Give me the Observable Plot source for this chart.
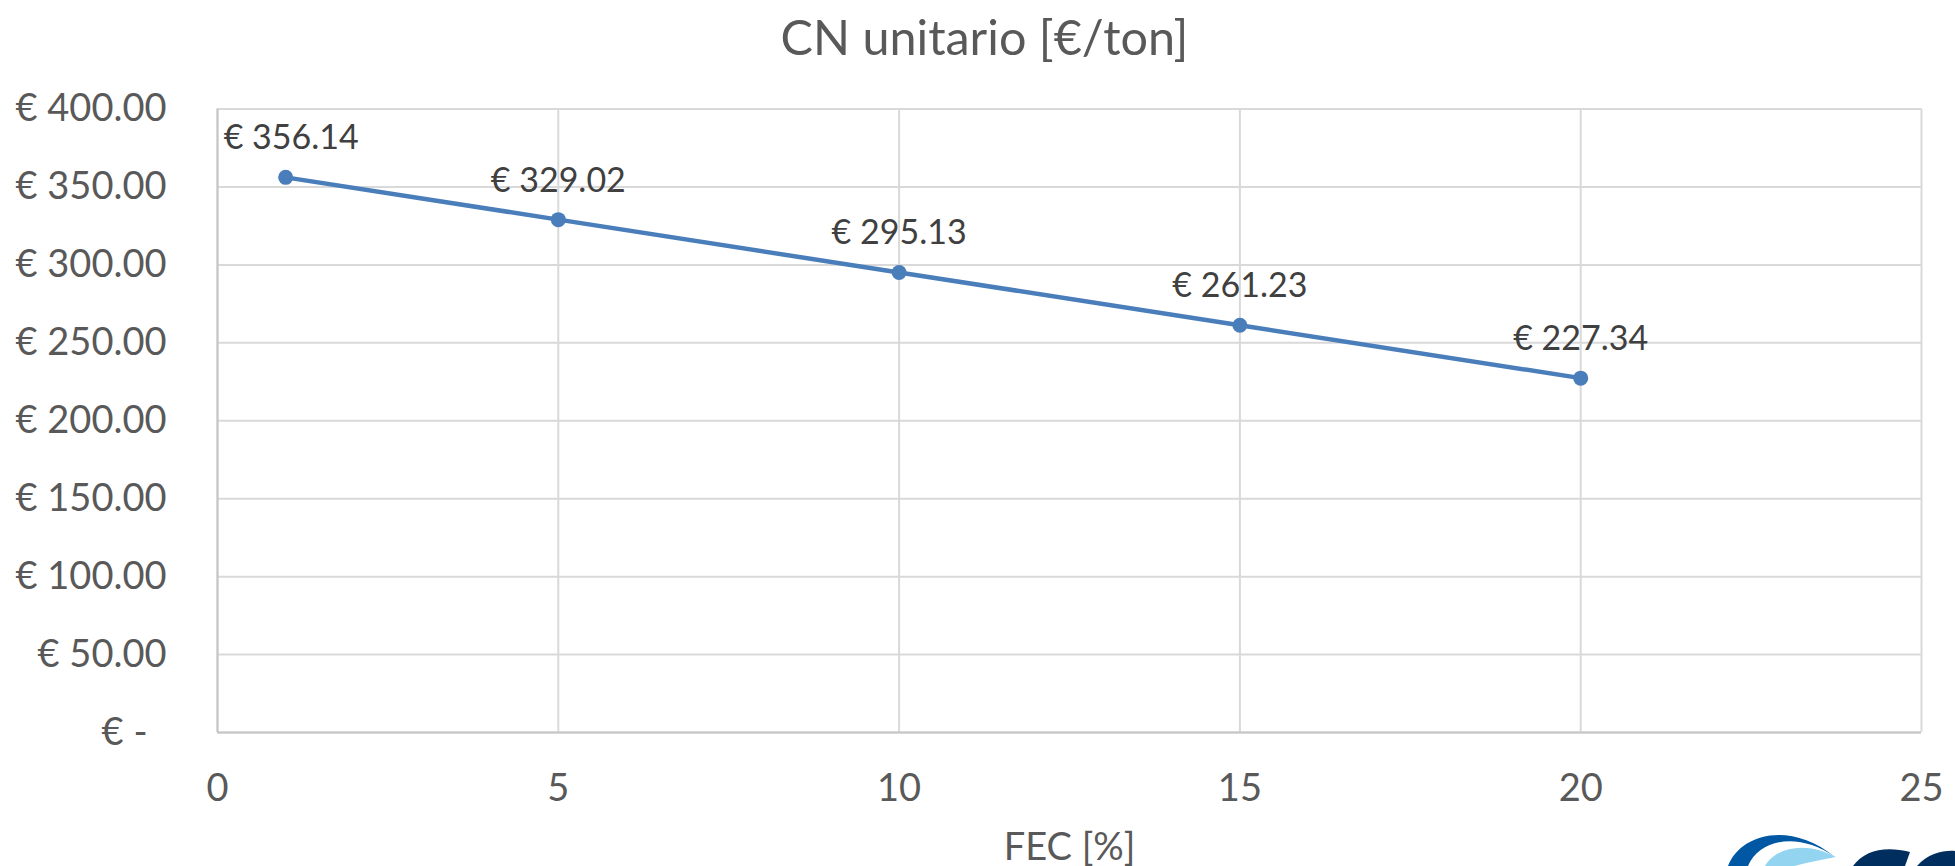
<!DOCTYPE html>
<html><head><meta charset="utf-8">
<script src="https://cdn.jsdelivr.net/npm/d3@7"></script>
<script src="https://cdn.jsdelivr.net/npm/@observablehq/plot@0.6"></script>
<style>
html,body{margin:0;padding:0;background:#fff}
body{width:1955px;height:866px;overflow:hidden;position:relative;font-family:Lato,"Open Sans",sans-serif}
#title{height:80px;line-height:72px;text-align:center;font-size:48.5px;color:#595959;padding-left:14px;box-sizing:border-box;width:1955px;overflow:hidden}
#logo{position:absolute;left:1700px;top:820px}
</style></head>
<body>
<div id="title">CN unitario [€/ton]</div>
<div id="chart"></div>
<svg id="logo" width="255" height="46" viewBox="0 0 255 46">
  <path d="M28,46 C40,14 90,0 135,37 C100,12 60,18 48,46 Z" fill="#0057a3"/>
  <path d="M65,46 C75,28 105,20 136,37 C120,40 100,44 95,46 Z" fill="#93d5f1"/>
  <path d="M153,46 C165,30 185,26 210,32 L205,46 Z" fill="#002f5f"/>
  <path d="M217,46 C228,33 245,30 255,31 L255,46 Z" fill="#002f5f"/>
</svg>
<script>
const fec = [1, 5, 10, 15, 20];
const cost = [356.14, 329.02, 295.13, 261.23, 227.34];
const xTicks = [0, 5, 10, 15, 20, 25];
const yTicks = [0, 50, 100, 150, 200, 250, 300, 350, 400];
const title = "CN unitario [€/ton]";
const xLabel = "FEC [%]";

const data = fec.map((x, i) => ({x, y: cost[i], label: "€ " + cost[i].toFixed(2)}));
const euro = v => v === 0 ? "€ -\u2002" : "€ " + v.toFixed(2);

const blue = "#4a7ebb";
const grid = "#d9d9d9";

const chart = Plot.plot({
  width: 1955,
  height: 786,
  marginLeft: 217,
  marginRight: 34,
  marginTop: 28.5,
  marginBottom: 134,
  style: {color: "#595959", fontFamily: "Lato, 'Open Sans', sans-serif", background: "white"},
  x: {domain: [0, 25]},
  y: {domain: [0, 400]},
  marks: [
    Plot.gridX(xTicks, {stroke: grid, strokeOpacity: 1, strokeWidth: 2}),
    Plot.gridY(yTicks, {stroke: grid, strokeOpacity: 1, strokeWidth: 2}),
    Plot.ruleX([0], {stroke: "#c6c6c6", strokeWidth: 2}),
    Plot.ruleY([0], {stroke: "#c6c6c6", strokeWidth: 2}),
    Plot.axisX({ticks: xTicks, tickSize: 0, tickPadding: 42, fontSize: 38, label: xLabel, labelAnchor: "center", labelArrow: "none", labelOffset: 127}),
    Plot.axisY({ticks: yTicks, tickSize: 0, tickPadding: 51, fontSize: 38, tickFormat: euro, label: null}),
    Plot.line(data, {x: "x", y: "y", stroke: blue, strokeWidth: 4.5}),
    Plot.dot(data, {x: "x", y: "y", r: 7.5, fill: blue, stroke: "none"}),
    Plot.text(data.slice(0, 1), {x: "x", y: "y", text: "label", dy: -39, dx: -62, textAnchor: "start", fontSize: 34, fill: "#404040"}),
    Plot.text(data.slice(1), {x: "x", y: "y", text: "label", dy: -39, fontSize: 34, fill: "#404040"})
  ]
});
document.getElementById("chart").appendChild(chart);
</script>
</body></html>
